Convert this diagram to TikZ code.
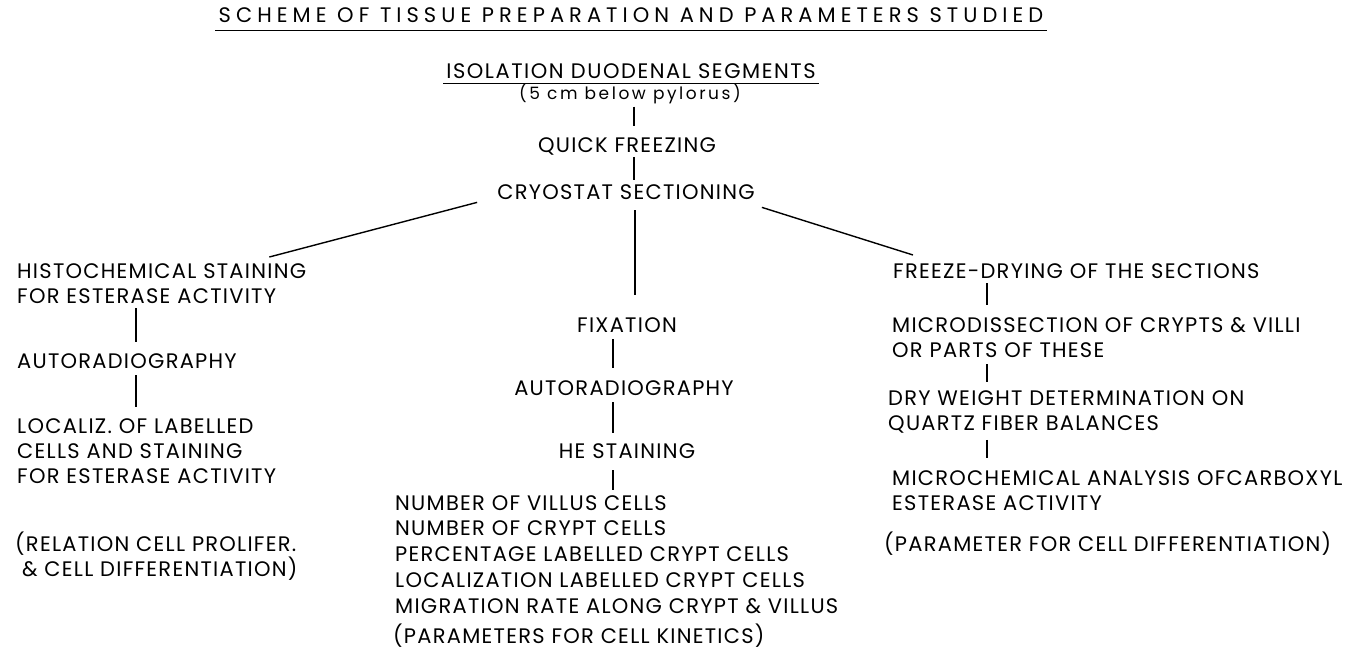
\documentclass[tikz,border=0pt]{standalone}
\usepackage{fontspec}
\setmainfont{Poppins}[LetterSpace=6]
\newfontfamily\titlefont[LetterSpace=24]{Poppins}
\newfontfamily\headfont[LetterSpace=7.4]{Poppins}
\newfontfamily\notefont[LetterSpace=15]{Poppins}
\usetikzlibrary{positioning, calc}
\tikzset{
  stagetext/.style={inner sep=0pt, anchor=north west, align=left,
                    font=\fontsize{21}{25}\selectfont},
  midtext/.style={inner sep=0pt, anchor=north, align=center,
                  font=\fontsize{21}{25}\selectfont},
  heading/.style={inner xsep=3pt, inner ysep=8pt, font=\titlefont\fontsize{21}{24}\selectfont},
  underline/.style={line width=1.3pt},
}

\begin{document}
\begin{tikzpicture}[
  x=1pt, y=-1pt,
  link/.style={line width=2pt},
  branch/.style={line width=1.4pt}
]
  \useasboundingbox (0,0) rectangle (1346,655);

  % Spines for the vertical links
  \coordinate (lx) at (136,0);
  \coordinate (cx) at (634,0);
  \coordinate (sx) at (635,0);
  \coordinate (mx) at (613,0);
  \coordinate (rx) at (987,0);

  % Title and top of the scheme
  \node (title) at (631,15) [heading] {SCHEME OF TISSUE PREPARATION AND PARAMETERS STUDIED};
  \draw[underline] (title.south west) -- (title.south east);
  \node (isolation) at (631,71) [heading, inner ysep=5pt, font=\headfont\fontsize{21}{24}\selectfont] {ISOLATION DUODENAL SEGMENTS};
  \draw[underline] (isolation.south west) -- (isolation.south east);
  \node (below) at (630,100) [anchor=base, inner sep=0pt, font=\notefont\fontsize{17}{20}\selectfont] {(5 cm below pylorus)};
  \node (quick) at (627,137) [midtext] {QUICK FREEZING};
  \node (cryo) at (626,184) [midtext] {CRYOSTAT SECTIONING};

  % Left branch
  \node (histo) at (17,263) [stagetext] {HISTOCHEMICAL STAINING\\FOR ESTERASE ACTIVITY};
  \node (autoL) at (17,353) [stagetext] {AUTORADIOGRAPHY};
  \node (localiz) at (17,418) [stagetext] {LOCALIZ. OF LABELLED\\CELLS AND STAINING\\FOR ESTERASE ACTIVITY};
  \node (relation) at (15,532) [stagetext] {(RELATION CELL PROLIFER.\\\ \& CELL DIFFERENTIATION)};

  % Middle branch
  \node (fix) at (627,317) [midtext] {FIXATION};
  \node (autoC) at (624,380) [midtext] {AUTORADIOGRAPHY};
  \node (he) at (627,443) [midtext] {HE STAINING};
  \node (counts) at (395,495) [stagetext, font=\fontsize{21}{25.8}\selectfont] {NUMBER OF VILLUS CELLS\\NUMBER OF CRYPT CELLS\\PERCENTAGE LABELLED CRYPT CELLS\\LOCALIZATION LABELLED CRYPT CELLS\\MIGRATION RATE ALONG CRYPT \& VILLUS};
  \node (kinetics) at (393,624) [stagetext] {(PARAMETERS FOR CELL KINETICS)};

  % Right branch
  \node (freeze) at (893,263) [stagetext] {FREEZE-DRYING OF THE SECTIONS};
  \node (micro) at (892,317) [stagetext] {MICRODISSECTION OF CRYPTS \& VILLI\\OR PARTS OF THESE};
  \node (dry) at (888,390) [stagetext] {DRY WEIGHT DETERMINATION ON\\QUARTZ FIBER BALANCES};
  \node (chem) at (892,470) [stagetext] {MICROCHEMICAL ANALYSIS OFCARBOXYL\\ESTERASE ACTIVITY};
  \node (diff) at (884,532) [stagetext] {(PARAMETER FOR CELL DIFFERENTIATION)};

  % Links
  \draw[link, shorten <=2pt, shorten >=11pt] (below.south -| cx) -- (quick.north -| cx);
  \draw[link, shorten <=2pt, shorten >=4pt] (quick.south -| cx) -- (cryo.north -| cx);
  \draw[branch] ([xshift=-20pt,yshift=-3pt]cryo.south west) -- ([xshift=-37pt,yshift=6pt]histo.north east);
  \draw[link, shorten <=11pt, shorten >=22pt] (cryo.south -| sx) -- (fix.north -| sx);
  \draw[branch] ([xshift=7pt,yshift=-8pt]cryo.south east) -- ([xshift=20pt,yshift=8pt]freeze.north west);

  \draw[link, shorten <=5pt, shorten >=11pt] (histo.south -| lx) -- (autoL.north -| lx);
  \draw[link, shorten <=7pt, shorten >=11pt] (autoL.south -| lx) -- (localiz.north -| lx);

  \draw[link, shorten <=7pt, shorten >=12pt] (fix.south -| mx) -- (autoC.north -| mx);
  \draw[link, shorten <=7pt, shorten >=10pt] (autoC.south -| mx) -- (he.north -| mx);
  \draw[link, shorten <=12pt, shorten >=5pt] (he.south -| mx) -- (counts.north -| mx);

  \draw[link, shorten <=5pt, shorten >=12pt] (freeze.south -| rx) -- (micro.north -| rx);
  \draw[link, shorten <=7pt, shorten >=8pt] (micro.south -| rx) -- (dry.north -| rx);
  \draw[link, shorten <=7pt, shorten >=12pt] (dry.south -| rx) -- (chem.north -| rx);
\end{tikzpicture}
\end{document}
